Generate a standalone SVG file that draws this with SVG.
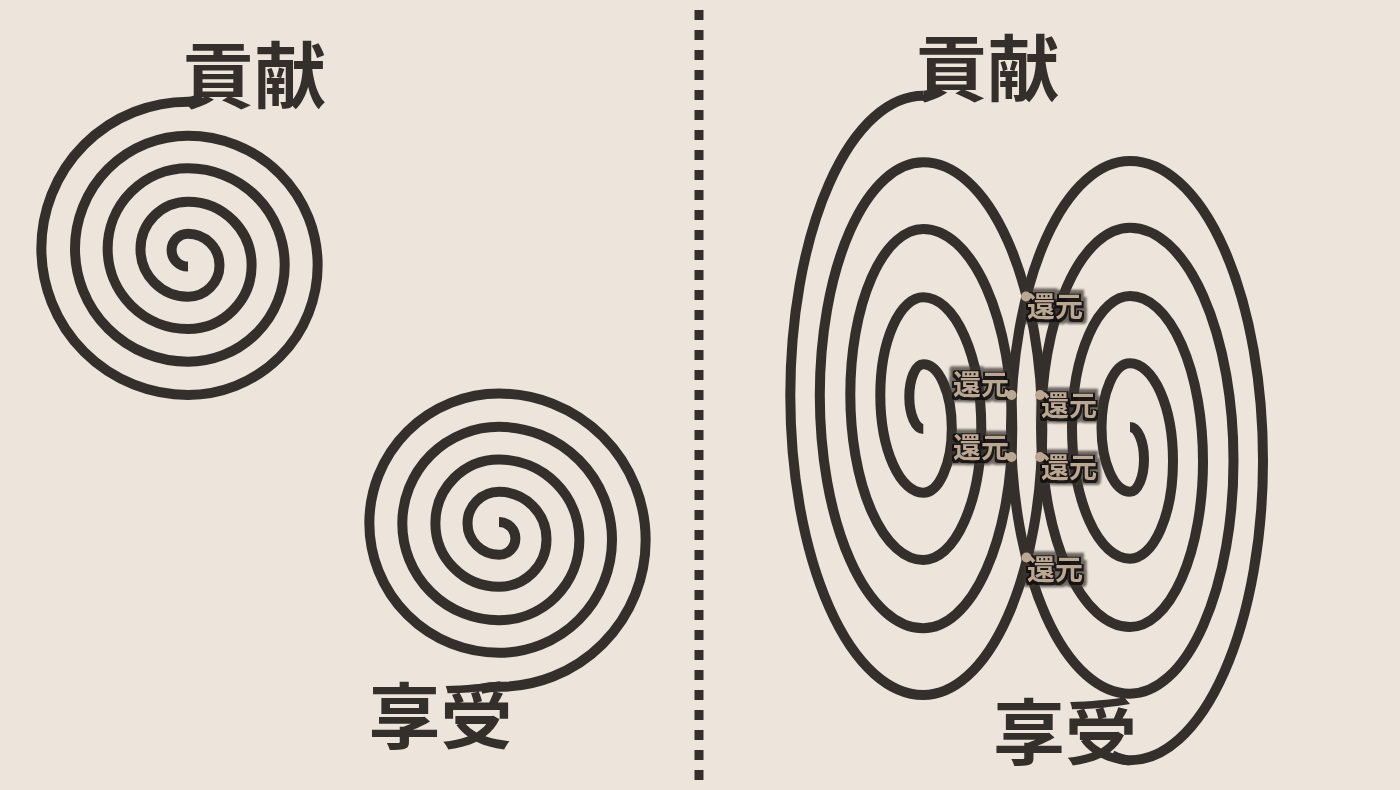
<svg xmlns="http://www.w3.org/2000/svg" xmlns:xlink="http://www.w3.org/1999/xlink" width="1400" height="790" viewBox="0 0 1400 790">
<defs>
<style>
.sp{fill:none;stroke:#352f2b;stroke-width:10;stroke-linecap:butt;stroke-linejoin:round}
.big{font-family:"Noto Sans CJK JP","Noto Sans CJK SC",sans-serif;font-weight:700;font-size:72px;fill:#352f2b}
.lbl{font-family:"Noto Sans CJK JP","Noto Sans CJK SC",sans-serif;font-weight:700;font-size:28px;fill:#bba892}
.dot{fill:#bba892}
.div{stroke:#352f2b;stroke-width:9;stroke-dasharray:10 10;stroke-dashoffset:10}
</style>
<filter id="halo" x="-25%" y="-40%" width="150%" height="180%" color-interpolation-filters="sRGB">
<feMorphology in="SourceAlpha" operator="dilate" radius="5" result="a"/>
<feGaussianBlur in="a" stdDeviation="0.8" result="ab"/>
<feFlood flood-color="#3b352f" flood-opacity="0.7" result="c1"/>
<feComposite in="c1" in2="ab" operator="in" result="outer"/>
<feMorphology in="SourceAlpha" operator="dilate" radius="2" result="b"/>
<feOffset in="b" dx="-0.5" dy="0.8" result="bo"/>
<feFlood flood-color="#0e0c0a" flood-opacity="0.85" result="c2"/>
<feComposite in="c2" in2="bo" operator="in" result="inner"/>
<feMerge><feMergeNode in="outer"/><feMergeNode in="inner"/><feMergeNode in="SourceGraphic"/></feMerge>
</filter>
<path id="circ" d="M188,266.5 A16.4,16.4 0 0 1 188,233.7 A31.5,31.5 0 0 1 188,296.7 A47.5,47.5 0 0 1 188,201.7 A63.65,63.65 0 0 1 188,329 A80.35,80.35 0 0 1 188,168.3 A96.7,96.7 0 0 1 188,361.7 A113,113 0 0 1 188,135.7 A129.65,129.65 0 0 1 188,395 A146.65,146.65 0 0 1 188,101.7"/>
<path id="ell" d="M923.3,429 A14,32.35 0 0 1 923.3,364.3 A28.5,64.2 0 0 1 923.3,492.7 A43,97.7 0 0 1 923.3,297.3 A58,131.35 0 0 1 923.3,560 A73,165.5 0 0 1 923.3,229 A89,199.65 0 0 1 923.3,628.3 A103.5,233 0 0 1 923.3,162.3 A119,266.35 0 0 1 923.3,695 A133,299.65 0 0 1 923.3,95.7"/>
</defs>
<rect width="1400" height="790" fill="#ede5db"/>

<g id="divider">
<line class="div" x1="699" y1="0" x2="699" y2="790"/>
</g>

<g id="single-contribution">
<use xlink:href="#circ" class="sp"/>
<path class="sp" d="M188,101.7 c5,0 9,-1.5 14,-4.5"/>
<text class="big" x="182" y="101.5">貢献</text>
</g>

<g id="single-enjoyment">
<use xlink:href="#circ" class="sp" transform="rotate(180 343.5 394.25)"/>
<path class="sp" d="M499,686.8 c-6,0 -12,0.5 -18,2"/>
<text class="big" x="368.5" y="743">享受</text>
</g>

<g id="double-contribution">
<use xlink:href="#ell" class="sp"/>
<path class="sp" d="M923.3,95.7 c6,0 11,-2 17,-6"/>
<text class="big" x="915.3" y="94.5">貢献</text>
</g>

<g id="double-enjoyment">
<use xlink:href="#ell" class="sp" transform="rotate(180 1026.65 428)"/>
<path class="sp" d="M1130,760.3 c-6,0 -12,-2 -18,-5"/>
<text class="big" x="993" y="759">享受</text>
</g>

<g id="returns">
<text class="lbl" filter="url(#halo)" x="1027" y="317">還元</text>
<text class="lbl" filter="url(#halo)" x="953" y="395">還元</text>
<text class="lbl" filter="url(#halo)" x="1041" y="416">還元</text>
<text class="lbl" filter="url(#halo)" x="953" y="458">還元</text>
<text class="lbl" filter="url(#halo)" x="1041" y="478">還元</text>
<text class="lbl" filter="url(#halo)" x="1027" y="580">還元</text>
<circle class="dot" cx="1026" cy="296.5" r="5"/>
<circle class="dot" cx="1011.5" cy="395" r="5"/>
<circle class="dot" cx="1040" cy="395" r="5"/>
<circle class="dot" cx="1011.5" cy="457" r="5"/>
<circle class="dot" cx="1040" cy="457" r="5"/>
<circle class="dot" cx="1026.5" cy="557.5" r="5"/>
</g>
</svg>
